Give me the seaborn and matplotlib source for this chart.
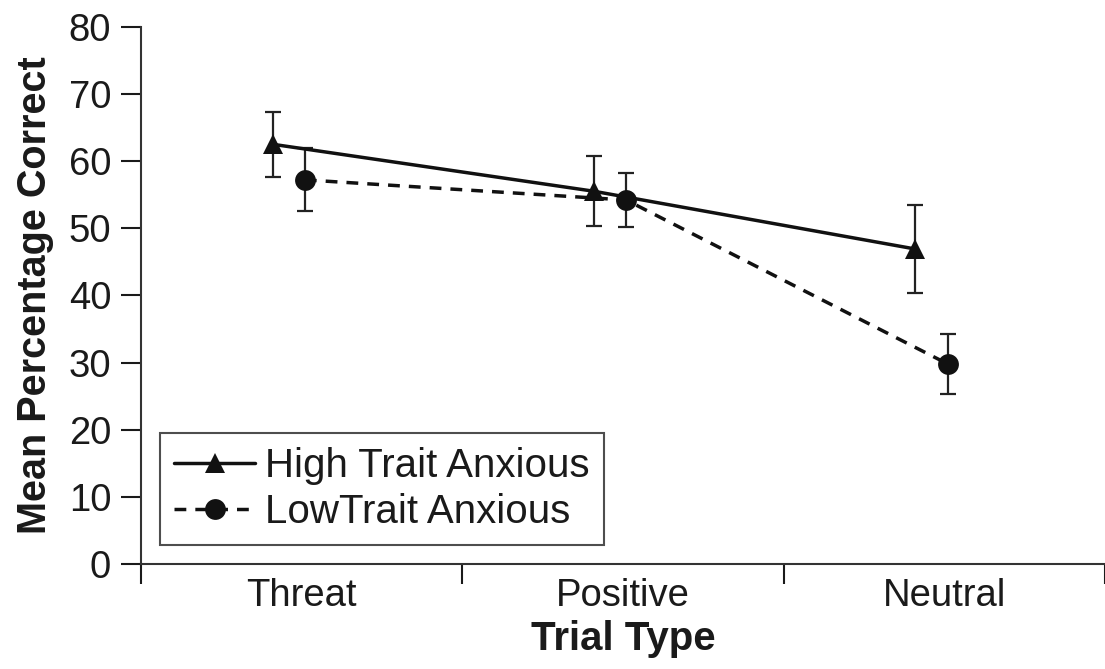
import pandas as pd
import numpy as np
import matplotlib
matplotlib.use("Agg")
import matplotlib.pyplot as plt
import seaborn as sns

# valores
trial_types = ["Threat", "Positive", "Neutral"]
high_mean = [62.5, 55.5, 46.9]
high_err = [4.8, 5.2, 6.5]
low_mean = [57.2, 54.2, 29.8]
low_err = [4.7, 4.0, 4.5]
groups = ["High Trait Anxious", "LowTrait Anxious"]

# deslocamento horizontal de cada grupo dentro da categoria
offsets = {groups[0]: -0.09, groups[1]: 0.01}

rows = []
for i, t in enumerate(trial_types):
    rows.append({"trial": t, "group": groups[0], "score": high_mean[i], "err": high_err[i]})
    rows.append({"trial": t, "group": groups[1], "score": low_mean[i], "err": low_err[i]})
df = pd.DataFrame(rows)
df["x"] = df["trial"].map({t: i + 0.5 for i, t in enumerate(trial_types)}) + df["group"].map(offsets)

sns.set_style("ticks")
plt.rcParams["font.family"] = ["Liberation Sans", "DejaVu Sans"]
ink = "#1a1a1a"

fig = plt.figure(figsize=(11.05, 6.69), dpi=100)
ax = fig.add_axes([0.1276, 0.157, 0.8724, 0.803])

sns.lineplot(data=df, x="x", y="score", hue="group", style="group",
             markers={groups[0]: "^", groups[1]: "o"},
             dashes={groups[0]: "", groups[1]: (3.4, 2.6)},
             palette={groups[0]: "#111111", groups[1]: "#111111"},
             markersize=15, linewidth=2.5, markeredgewidth=0,
             sort=False, ax=ax)

for g in groups:
    sub = df[df["group"] == g]
    ax.errorbar(sub["x"], sub["score"], yerr=sub["err"], fmt="none",
                ecolor="#222222", elinewidth=1.6, capsize=5.8, capthick=1.6, zorder=1)

ax.set_xlim(0, 3)
ax.set_ylim(0, 80)
ax.set_yticks(np.arange(0, 81, 10))
ax.set_xticks([0, 1, 2, 3])
ax.set_xticklabels([])
ax.set_xticks([0.5, 1.5, 2.5], minor=True)
ax.set_xticklabels(trial_types, minor=True)

ax.tick_params(axis="y", which="major", length=14.5, width=1.5, pad=7, labelsize=27.5, colors=ink)
ax.tick_params(axis="x", which="major", length=14.5, width=1.5, colors=ink)
ax.tick_params(axis="x", which="minor", length=0, pad=10, labelsize=27.5, colors=ink)

for s in ["top", "right"]:
    ax.spines[s].set_visible(False)
for s in ["left", "bottom"]:
    ax.spines[s].set_linewidth(1.5)
    ax.spines[s].set_color("#333333")

ax.set_xlabel("Trial Type", fontsize=29, fontweight="bold", color=ink)
ax.set_ylabel("Mean Percentage Correct", fontsize=28.5, fontweight="bold", color=ink)
ax.xaxis.set_label_coords(0.5, -0.105)
ax.yaxis.set_label_coords(-0.09, 0.5)

handles, labels = ax.get_legend_handles_labels()
leg = ax.legend(handles, labels, loc="lower left", bbox_to_anchor=(0.02, 0.035),
                fontsize=29, frameon=True, fancybox=False, edgecolor="#222222",
                handlelength=2.0, handletextpad=0.25, borderpad=0.35,
                labelspacing=0.2, borderaxespad=0)
leg.get_frame().set_linewidth(1.5)
for txt in leg.get_texts():
    txt.set_color(ink)

fig.savefig("out.png", dpi=100)
